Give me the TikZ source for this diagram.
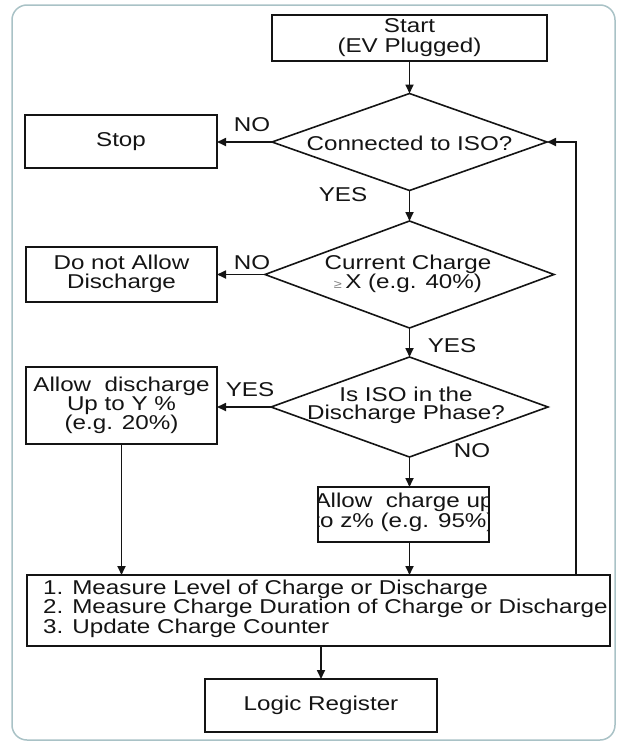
\documentclass[tikz,border=0pt]{standalone}
\usepackage{fontspec}
\setmainfont[FakeStretch=1.21]{Liberation Sans}
\usetikzlibrary{shapes.geometric,arrows.meta}
\definecolor{framec}{HTML}{A9C2C6}
\definecolor{ink}{HTML}{141414}
\begin{document}
\begin{tikzpicture}[x=1pt,y=-1pt,
  every node/.style={font=\fontsize{20}{18.5}\selectfont, text=ink},
  box/.style={draw=ink, line width=1.6pt, inner sep=0pt, outer sep=0pt},
  dia/.style={diamond, draw=ink, line width=1.6pt, inner sep=0pt, outer sep=0pt},
  lbl/.style={align=center, inner sep=0pt},
  conn/.style={draw=ink, line width=1.7pt, -{Triangle[length=9pt,width=8pt]}},
  ]
\useasboundingbox (0,0) rectangle (619,744);
\draw[framec, line width=1.5pt, rounded corners=15pt] (12,5) rectangle (615,740);

% boxes
\node[box, minimum width=275pt, minimum height=46pt] (start) at (409.5,38) {};
\node[lbl, font=\fontsize{20}{20}\selectfont] (startt) at (409.5,37.5) {Start\\(EV Plugged)};
\node[box, minimum width=192pt, minimum height=53pt] (stop) at (121,141.5) {};
\node[lbl] (stopt) at (stop.center) {Stop};
\node[box, minimum width=191pt, minimum height=55pt] (dna) at (121.5,274.5) {};
\node[lbl] (dnat) at (121.5,274) {Do not Allow\\Discharge};
\node[box, minimum width=191pt, minimum height=77pt] (adis) at (121.5,405.5) {};
\node[lbl] (adist) at (121.5,405.5) {Allow\ \ discharge\\Up to Y \%\\(e.g. 20\%)};
\node[box, minimum width=171pt, minimum height=55pt] (ac) at (403.5,514.5) {};
\begin{scope}
\clip (ac.south west) rectangle (ac.north east);
\node[lbl] (act) at (404,512.5) {Allow\ \ charge up\\to z\% (e.g. 95\%)};
\end{scope}
\node[box, minimum width=583pt, minimum height=71pt] (meas) at (318.5,610.5) {};
\node[lbl, align=left, anchor=west] (meast) at (43,608.5) {1. Measure Level of Charge or Discharge\\2. Measure Charge Duration of Charge or Discharge\\3. Update Charge Counter};
\node[box, minimum width=232pt, minimum height=53pt] (logic) at (321,705.5) {};
\node[lbl] (logict) at (logic.center) {Logic Register};

% diamonds
\node[dia, minimum width=275pt, minimum height=97pt] (d1) at (409.5,142) {};
\node[lbl] (d1t) at (409.5,143) {Connected to ISO?};
\node[dia, minimum width=289pt, minimum height=107pt] (d2) at (409.5,274.5) {};
\node[lbl] (d2t) at (408,274) {Current Charge\\{\color{gray}\fontsize{12}{12}\selectfont ≥}\,X (e.g. 40\%)};
\node[dia, minimum width=277pt, minimum height=100pt] (d3) at (409.5,407) {};
\node[lbl] (d3t) at (406,405.5) {Is ISO in the\\Discharge Phase?};

% labels
\node[lbl] (no1) at (252,125) {NO};
\node[lbl] (yes1) at (343,195) {YES};
\node[lbl] (no2) at (252,263) {NO};
\node[lbl] (yes2) at (452,346) {YES};
\node[lbl] (yes3) at (250,390) {YES};
\node[lbl] (no3) at (472,451) {NO};

% connectors
\coordinate (loopx) at (576,0);
\draw[conn] (start.south) -- (d1.north);
\draw[conn] (d1.west) -- (d1.west -| stop.east);
\draw[conn] (d1.south) -- (d2.north);
\draw[conn] (d2.west) -- (d2.west -| dna.east);
\draw[conn] (d2.south) -- (d3.north);
\draw[conn] (d3.west) -- (d3.west -| adis.east);
\draw[conn] (d3.south) -- (d3.south |- ac.north);
\draw[conn] (adis.south) -- (adis.south |- meas.north);
\draw[conn] (d3.south |- ac.south) -- (d3.south |- meas.north);
\draw[conn] (logic.north |- meas.south) -- (logic.north);
\draw[conn] (loopx |- meas.north) |- (d1.east);
\end{tikzpicture}
\end{document}
